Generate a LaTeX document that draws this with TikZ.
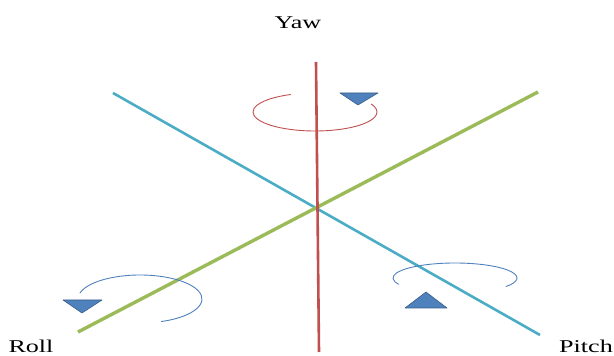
\documentclass[tikz,border=0pt]{standalone}
\usepackage{fontspec}
\setmainfont{Liberation Serif}
\usepackage{tikz}
\usetikzlibrary{positioning,calc}

\definecolor{yawred}{HTML}{C0504D}
\definecolor{pitchcyan}{HTML}{4BACC6}
\definecolor{rollgreen}{HTML}{9BBB59}
\definecolor{arcblue}{HTML}{4F81BD}
\definecolor{tipblue}{HTML}{385D8A}

\tikzset{
  axislabel/.style={font=\fontsize{18}{18}\selectfont,xscale=1.45,anchor=base,inner sep=0pt},
  turn/.style={arcblue,line width=0.9pt},
  tip/.style={fill=arcblue,draw=tipblue,line width=0.6pt,line join=round}
}

\begin{document}
\begin{tikzpicture}[x=1pt,y=1pt]
\useasboundingbox (0,0) rectangle (614,356);
\coordinate (yawtop) at (316,294);
\coordinate (yawbot) at (319,4);
\coordinate (rollend) at (78,24);
\coordinate (rollfar) at (538,264);
\coordinate (pitchfar) at (113,263);
\coordinate (pitchend) at (540,21);

\draw[pitchcyan,line width=2.6pt] (pitchfar) -- (pitchend);
\draw[rollgreen,line width=3.4pt] (rollend) -- (rollfar);
\draw[yawred,line width=2.6pt] (yawtop) -- (yawbot);

\node[axislabel] (yaw) at (298,327) {Yaw};
\node[axislabel] (roll) at (31,3) {Roll};
\node[axislabel] (pitch) at (586,3) {Pitch};

% yaw turn
\draw[yawred,line width=0.9pt] ($(315,244)+(113:62 and 19)$) arc[start angle=113,end angle=385,x radius=62,y radius=19];
\draw[tip] (340,263) -- (378,263) -- (358,251) -- cycle;

% roll turn
\draw[turn] ($(140,57)+(166:62 and 24)$) arc[start angle=166,end angle=-70,x radius=62,y radius=24];
\draw[tip] (63,56) -- (102,56) -- (82,43) -- cycle;

% pitch turn
\draw[turn] ($(455,78)+(205:62 and 15)$) arc[start angle=205,end angle=-35,x radius=62,y radius=15];
\draw[tip] (405,48) -- (447,48) -- (426,64) -- cycle;
\end{tikzpicture}
\end{document}
